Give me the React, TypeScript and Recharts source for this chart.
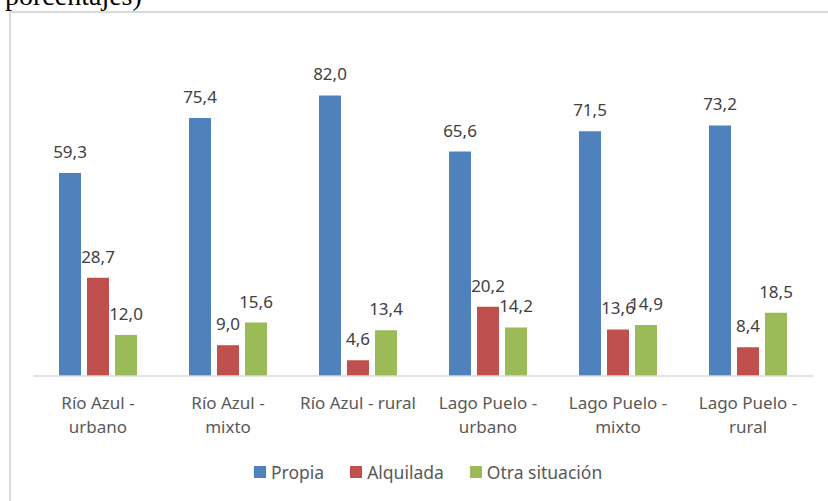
import React from "react";
import { BarChart, Bar, XAxis, YAxis, LabelList } from "recharts";

const categories = [
  "Río Azul - urbano",
  "Río Azul - mixto",
  "Río Azul - rural",
  "Lago Puelo - urbano",
  "Lago Puelo - mixto",
  "Lago Puelo - rural",
];
const tickLines: string[][] = [
  ["Río Azul -", "urbano"],
  ["Río Azul -", "mixto"],
  ["Río Azul - rural"],
  ["Lago Puelo -", "urbano"],
  ["Lago Puelo -", "mixto"],
  ["Lago Puelo -", "rural"],
];
const propia = [59.3, 75.4, 82.0, 65.6, 71.5, 73.2];
const alquilada = [28.7, 9.0, 4.6, 20.2, 13.6, 8.4];
const otra = [12.0, 15.6, 13.4, 14.2, 14.9, 18.5];
const seriesNames = ["Propia", "Alquilada", "Otra situación"];
const colors = ["#4F81BD", "#C0504D", "#9BBB59"];

const data = categories.map((c, i) => ({
  name: c,
  propia: propia[i],
  alquilada: alquilada[i],
  otra: otra[i],
}));

const FONT = "'Noto Sans', sans-serif";
const FS = 17;

const fmt = (v: any) => Number(v).toFixed(1).replace(".", ",");

const Tick = (props: any) => {
  const { x, y, index } = props;
  const lines = tickLines[index] || [];
  return (
    <g>
      {lines.map((l, k) => (
        <text
          key={k}
          x={x}
          y={y + 25 + k * 24}
          textAnchor="middle"
          fill="#595959"
          fontSize={FS}
          fontFamily={FONT}
        >
          {l}
        </text>
      ))}
    </g>
  );
};

export default function App() {
  return (
    <div style={{ position: "absolute", left: 0, top: 0, width: 828, height: 501, background: "#fff", overflow: "hidden" }}>
      <div
        style={{
          position: "absolute",
          left: 5,
          top: -20,
          fontFamily: "'Liberation Serif', 'Times New Roman', serif",
          fontSize: 28,
          lineHeight: "32px",
          color: "#000",
        }}
      >
        porcentajes)
      </div>
      <div
        style={{
          position: "absolute",
          left: 9,
          top: 11,
          width: 830,
          height: 500,
          borderLeft: "2px solid #d9d9d9",
          borderTop: "2px solid #d9d9d9",
        }}
      />
      <div style={{ position: "absolute", left: 0, top: 0 }}>
        <BarChart
          width={828}
          height={501}
          data={data}
          margin={{ top: 68, right: 15, left: 33, bottom: 65 }}
          barGap={6}
          barCategoryGap={26}
        >
          <XAxis
            dataKey="name"
            axisLine={{ stroke: "#d9d9d9", strokeWidth: 1.5 }}
            tickLine={false}
            tick={<Tick />}
            interval={0}
            height={60}
          />
          <YAxis hide domain={[0, 90]} />
          {(["propia", "alquilada", "otra"] as const).map((k, i) => (
            <Bar
              key={k}
              dataKey={k}
              name={seriesNames[i]}
              fill={colors[i]}
              barSize={22}
              isAnimationActive={false}
            >
              <LabelList
                dataKey={k}
                position="top"
                offset={15}
                formatter={fmt}
                fill="#404040"
                fontSize={FS}
                fontFamily={FONT}
              />
            </Bar>
          ))}
        </BarChart>
      </div>
      <div
        style={{
          position: "absolute",
          left: 254,
          top: 460,
          height: 24,
          display: "flex",
          alignItems: "center",
          fontFamily: FONT,
          fontSize: 17.5,
          color: "#595959",
        }}
      >
        {seriesNames.map((n, i) => (
          <div key={n} style={{ display: "flex", alignItems: "center", marginRight: i < 2 ? 26 : 0 }}>
            <span
              style={{
                display: "inline-block",
                width: 12,
                height: 12,
                background: colors[i],
                marginRight: 5,
              }}
            />
            <span>{n}</span>
          </div>
        ))}
      </div>
    </div>
  );
}
